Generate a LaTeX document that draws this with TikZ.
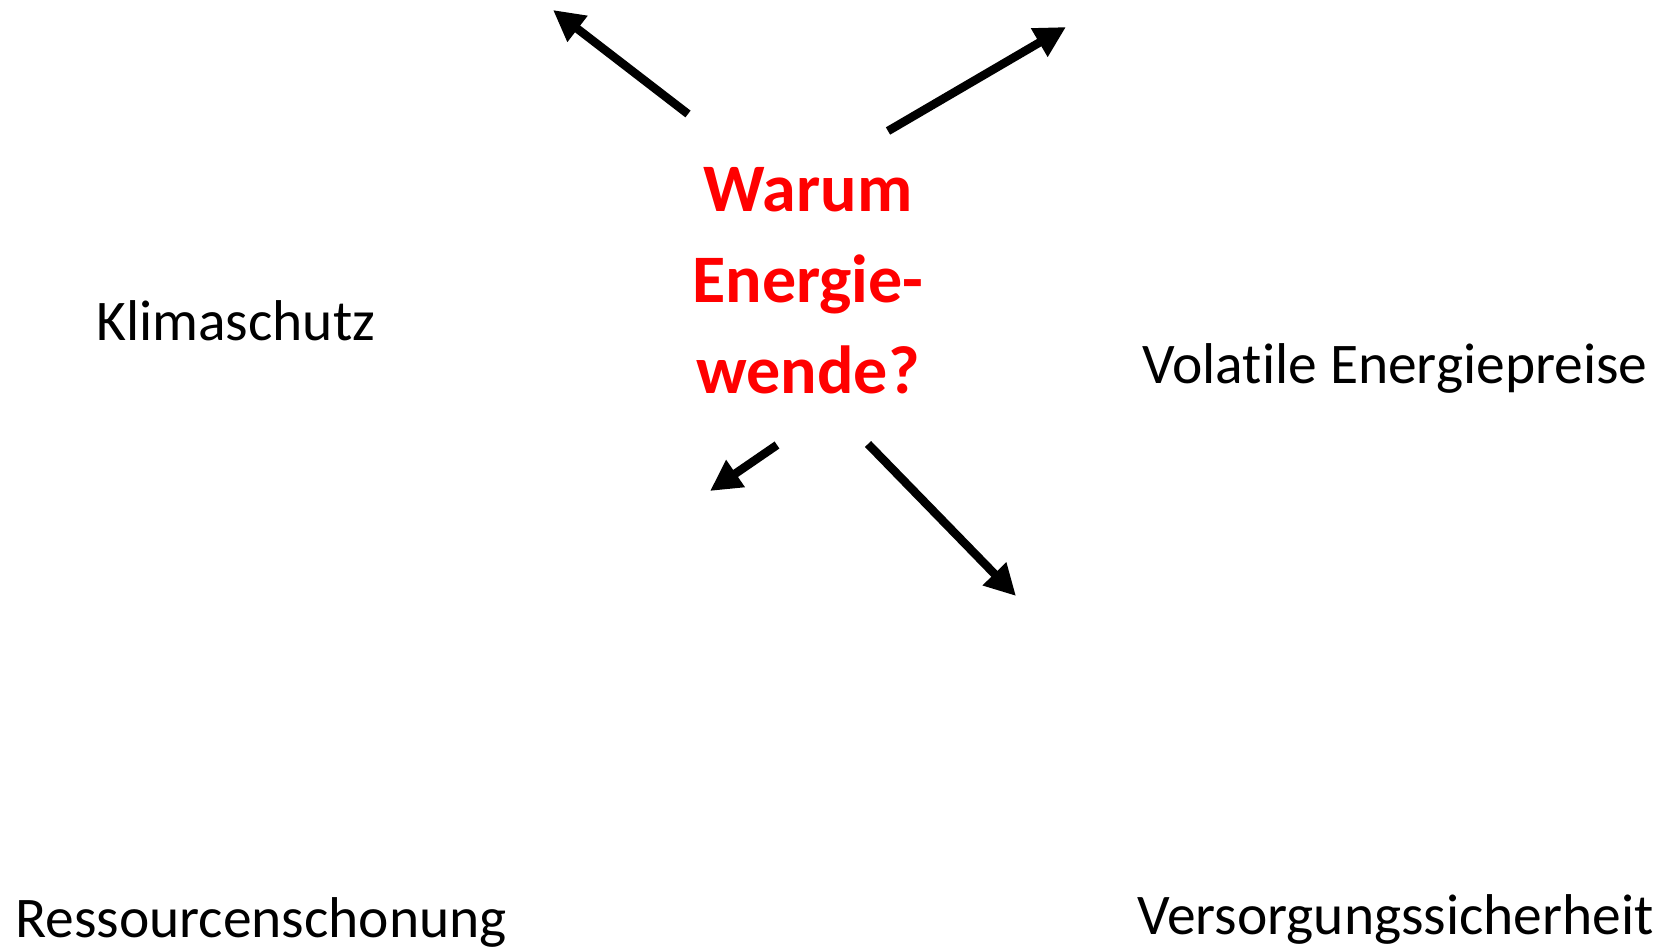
\documentclass[tikz,border=0pt]{standalone}
\usepackage{fontspec}
\setmainfont{Carlito}[Ligatures=NoCommon]
\usetikzlibrary{arrows.meta}
\definecolor{titlered}{RGB}{255,0,0}
\tikzset{
  label/.style={anchor=base west, inner sep=0pt, font=\fontsize{57.5}{68}\selectfont},
  title/.style={align=center, inner sep=0pt, text=titlered, font=\fontsize{68}{91}\selectfont\bfseries},
  arrowline/.style={line width=8.5pt, -{Triangle[length=31pt,width=31pt]}}
}
\begin{document}
\begin{tikzpicture}[x=1pt,y=-1pt]
\useasboundingbox (0,0) rectangle (1677,949);
\node[title] (t) at (808,281) {Warum\\Energie-\\wende?};
\node[label] (k) at (96,340) {Klimaschutz};
\node[label] (v) at (1142,383) {Volatile Energiepreise};
\node[label] (r) at (15,937) {Ressourcenschonung};
\node[label] (s) at (1137,934) {Versorgungssicherheit};
\coordinate (a1s) at (688,114);
\coordinate (a1e) at (553,10);
\coordinate (a2s) at (888,131);
\coordinate (a2e) at (1066,27);
\coordinate (a3s) at (777,445);
\coordinate (a3e) at (710,491);
\coordinate (a4s) at (868,444);
\coordinate (a4e) at (1016,596);
\draw[arrowline] (a1s) -- (a1e);
\draw[arrowline] (a2s) -- (a2e);
\draw[arrowline] (a3s) -- (a3e);
\draw[arrowline] (a4s) -- (a4e);
\end{tikzpicture}
\end{document}
